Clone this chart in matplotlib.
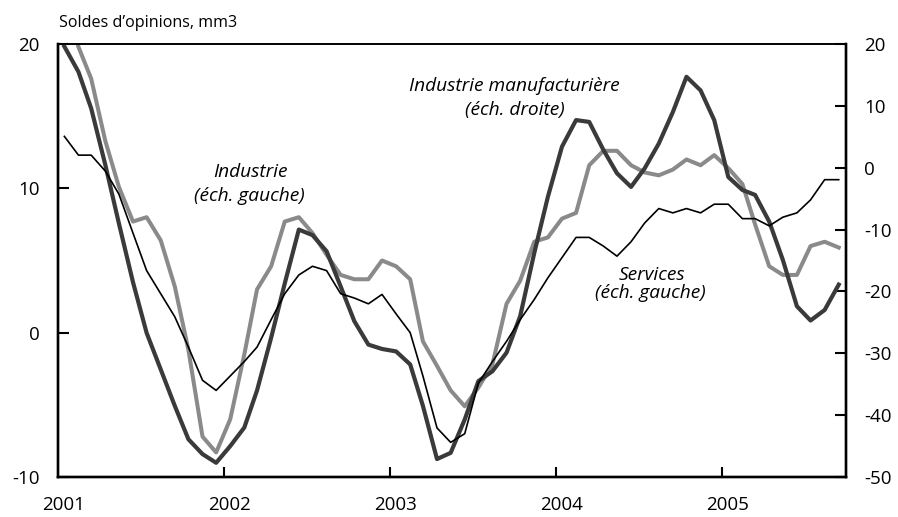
import numpy as np
import pandas as pd
import matplotlib
matplotlib.use("Agg")
import matplotlib.pyplot as plt

plt.rcParams['font.family'] = ['Open Sans', 'DejaVu Sans']
plt.rcParams['axes.unicode_minus'] = False

# Données mensuelles, janvier 2001 - septembre 2005
mois = pd.date_range('2001-01-01', periods=57, freq='MS') + pd.Timedelta(days=14)

services = [13.6, 12.3, 12.3, 11.2, 9.6, 6.9, 4.3, 2.7, 1.1, -1.0,
            -3.3, -4.0, -3.0, -2.0, -1.0, 0.9, 2.7, 4.0, 4.6, 4.3,
            2.7, 2.4, 2.0, 2.65, 1.3, 0.0, -3.0, -6.6, -7.6, -7.0,
            -3.5, -2.0, -0.6, 0.9, 2.3, 3.8, 5.2, 6.6, 6.6, 6.0,
            5.3, 6.3, 7.6, 8.6, 8.3, 8.6, 8.3, 8.9, 8.9, 7.9,
            7.9, 7.4, 8.0, 8.3, 9.2, 10.6, 10.6]

industrie = [23.0, 19.8, 17.6, 13.3, 10.1, 7.7, 8.0, 6.4, 3.2, -1.2,
             -7.2, -8.3, -6.0, -1.5, 3.0, 4.6, 7.7, 8.0, 6.9, 5.4,
             4.0, 3.7, 3.7, 5.0, 4.6, 3.7, -0.6, -2.3, -4.0, -5.1,
             -3.8, -2.2, 2.0, 3.6, 6.3, 6.6, 7.9, 8.3, 11.6, 12.6,
             12.6, 11.6, 11.1, 10.9, 11.3, 12.0, 11.6, 12.3, 11.4, 10.3,
             7.5, 4.6, 4.0, 4.0, 6.0, 6.3, 5.9]

manufacturiere = [19.6, 15.5, 9.6, 0.5, -9.0, -18.5, -26.7, -32.6, -38.5, -43.9,
                  -46.3, -47.7, -45.0, -42.0, -36.0, -27.5, -18.7, -10.0, -10.9, -13.5,
                  -19.2, -24.8, -28.6, -29.3, -29.7, -31.8, -38.5, -47.1, -46.1, -40.7,
                  -34.5, -32.9, -29.9, -24.0, -13.8, -4.7, 3.4, 7.7, 7.4, 2.9,
                  -0.9, -3.1, -0.1, 3.9, 9.0, 14.7, 12.5, 7.7, -1.5, -3.6,
                  -4.4, -8.7, -14.9, -22.4, -24.7, -23.0, -18.9]

annees = [2001, 2002, 2003, 2004, 2005]

fig = plt.figure(figsize=(8.98, 5.17), dpi=100)
ax = fig.add_axes([58/898, 1-477/517, (846-58)/898, (477-44)/517])
ax2 = ax.twinx()

ax.plot(mois, industrie, color='#8a8a8a', lw=2.9, zorder=2)
ax2.plot(mois, manufacturiere, color='#3a3a3a', lw=3.0, zorder=2)
ax2.plot(mois, services, color='black', lw=1.2, zorder=3,
         transform=ax.transData)

ax.set_xlim(pd.Timestamp('2001-01-01'), pd.Timestamp('2005-10-01'))
ax.set_ylim(-10, 20)
ax2.set_ylim(-50, 20)
ax.set_yticks([-10, 0, 10, 20])
ax2.set_yticks(np.arange(-50, 21, 10))

# graduations annuelles, étiquettes mi-janvier
ax.set_xticks([pd.Timestamp(f'{a}-01-01') for a in annees[1:]])
ax.set_xticklabels([])
ax.set_xticks([pd.Timestamp(f'{a}-01-14') for a in annees], minor=True)
ax.set_xticklabels([str(a) for a in annees], minor=True)

ax.tick_params(axis='x', which='major', direction='in', length=7, width=1.5)
ax.tick_params(axis='x', which='minor', length=0, pad=14, labelsize=13.5)
ax.tick_params(axis='y', direction='in', length=8, width=1.5, pad=13, labelsize=13.5)
ax2.tick_params(axis='y', direction='in', length=8, width=1.5, pad=13, labelsize=13.5)

for a in (ax, ax2):
    for s in ['left', 'right', 'bottom']:
        a.spines[s].set_linewidth(1.7)
    a.spines['top'].set_linewidth(1.2)

fig.text(59/898, 1-23/517, 'Soldes d\u2019opinions, mm3', fontsize=11.6, va='center', ha='left')

for txt, x, y in [('Industrie', 250, 172), ('(éch. gauche)', 249, 196),
                  ('Industrie manufacturière', 514, 86), ('(éch. droite)', 515, 110),
                  ('Services', 652, 275), ('(éch. gauche)', 650, 293)]:
    fig.text(x/898, 1-y/517, txt, fontsize=13.8, style='italic', ha='center', va='center')

fig.savefig('out.png', dpi=100)
